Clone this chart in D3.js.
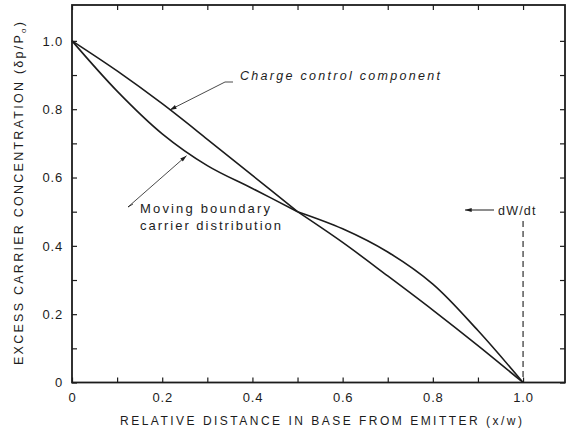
<!DOCTYPE html>
<html>
<head>
<meta charset="utf-8">
<script src="https://cdn.jsdelivr.net/npm/d3@7"></script>
<style>
  body { margin: 0; background: #fff; }
  svg text { font-family: "Liberation Sans", Arial, sans-serif; fill: #1c1c1c; }
</style>
</head>
<body>
<svg id="chart" width="568" height="437"></svg>
<script>
// x = relative distance in base (x/w), y = excess carrier concentration
const chargeX = [0, 0.1, 0.2, 0.3, 0.4, 0.5, 0.6, 0.7, 0.8, 0.9, 1.0];
const chargeY = [1.0, 0.912, 0.816, 0.712, 0.606, 0.5, 0.45, 0.382, 0.288, 0.152, 0];
const movingX = [0, 0.1, 0.2, 0.3, 0.4, 0.5, 0.6, 0.7, 0.8, 0.9, 1.0];
const movingY = [1.0, 0.853, 0.728, 0.635, 0.568, 0.5, 0.41, 0.312, 0.212, 0.108, 0];
const majorTicks = [0, 0.2, 0.4, 0.6, 0.8, 1.0];
const minorTicks = [0, 0.1, 0.2, 0.3, 0.4, 0.5, 0.6, 0.7, 0.8, 0.9, 1.0];

const svg = d3.select("#chart");
const ink = "#1c1c1c";

const x = d3.scaleLinear().domain([0, 1.093]).range([72, 565]);
const y = d3.scaleLinear().domain([0, 1.105]).range([382.5, 5]);

const fmt = d => d === 0 ? "0" : d.toFixed(1);

// arrowhead marker
svg.append("defs").append("marker")
    .attr("id", "arrow")
    .attr("viewBox", "0 0 10 6")
    .attr("refX", 10).attr("refY", 3)
    .attr("markerWidth", 8).attr("markerHeight", 4)
    .attr("markerUnits", "userSpaceOnUse")
    .attr("orient", "auto")
  .append("path")
    .attr("d", "M0,0L10,3L0,6Z")
    .attr("fill", ink);

// ticks on all four sides, pointing inward
function styleAxis(g) {
    g.select(".domain").remove();
    g.selectAll(".tick line").attr("stroke", ink).attr("stroke-width", 1.2);
    g.selectAll(".tick text")
        .attr("fill", ink)
        .style("font-size", "13px")
        .style("letter-spacing", "0.8px");
}

svg.append("g")
    .attr("transform", `translate(0,${y(0)})`)
    .call(d3.axisBottom(x).tickValues(minorTicks).tickSize(-5).tickFormat(""))
    .call(styleAxis);
svg.append("g")
    .attr("transform", `translate(0,${y(0)})`)
    .call(d3.axisBottom(x).tickValues(majorTicks).tickSize(0).tickPadding(10).tickFormat(fmt))
    .call(styleAxis);

svg.append("g")
    .attr("transform", `translate(${x(0)},0)`)
    .call(d3.axisLeft(y).tickValues(minorTicks).tickSize(-5).tickFormat(""))
    .call(styleAxis);
svg.append("g")
    .attr("transform", `translate(${x(0)},0)`)
    .call(d3.axisLeft(y).tickValues(majorTicks).tickSize(0).tickPadding(9).tickFormat(fmt))
    .call(styleAxis);

svg.append("g")
    .attr("transform", `translate(0,${y.range()[1]})`)
    .call(d3.axisTop(x).tickValues(minorTicks).tickSize(-5).tickFormat(""))
    .call(styleAxis);
svg.append("g")
    .attr("transform", `translate(${x.range()[1]},0)`)
    .call(d3.axisRight(y).tickValues(minorTicks).tickSize(-5).tickFormat(""))
    .call(styleAxis);

// frame
svg.append("rect")
    .attr("x", x.range()[0]).attr("y", y.range()[1])
    .attr("width", x.range()[1] - x.range()[0])
    .attr("height", y.range()[0] - y.range()[1])
    .attr("fill", "none").attr("stroke", ink).attr("stroke-width", 1.8);

// curves: both bend sharply where they cross at x = 0.5,
// so each half is drawn as its own smooth piece
const line = d3.line()
    .x(d => x(d[0])).y(d => y(d[1]))
    .curve(d3.curveCatmullRom.alpha(0.5));

function drawCurve(xs, ys) {
    const pts = d3.zip(xs, ys);
    [pts.filter(p => p[0] <= 0.5), pts.filter(p => p[0] >= 0.5)].forEach(part => {
        svg.append("path")
            .datum(part)
            .attr("d", line)
            .attr("fill", "none").attr("stroke", ink)
            .attr("stroke-width", 1.6).attr("stroke-linejoin", "round");
    });
}
drawCurve(chargeX, chargeY);
drawCurve(movingX, movingY);

// dW/dt boundary marker
svg.append("line")
    .attr("x1", x(1.0)).attr("x2", x(1.0))
    .attr("y1", 221).attr("y2", y(0))
    .attr("stroke", ink).attr("stroke-width", 1.1)
    .attr("stroke-dasharray", "6,4");
svg.append("line")
    .attr("x1", 494).attr("y1", 210).attr("x2", 465).attr("y2", 210)
    .attr("stroke", ink).attr("stroke-width", 1)
    .attr("marker-end", "url(#arrow)");
svg.append("text")
    .attr("x", 498).attr("y", 214.5)
    .style("font-size", "12.5px")
    .style("letter-spacing", "1.2px")
    .text("dW/dt");

// annotation: charge control component
svg.append("path")
    .attr("d", `M233,82L225,82L${x(0.217)},${y(0.798)}`)
    .attr("fill", "none").attr("stroke", ink).attr("stroke-width", 0.8)
    .attr("marker-end", "url(#arrow)");
svg.append("text")
    .attr("x", 240).attr("y", 79.5)
    .attr("textLength", 200).attr("lengthAdjust", "spacing")
    .style("font-size", "12.5px").style("font-style", "italic")
    .text("Charge control component");

// annotation: moving boundary carrier distribution
svg.append("path")
    .attr("d", `M133,204L128,207L${x(0.254)},${y(0.664)}`)
    .attr("fill", "none").attr("stroke", ink).attr("stroke-width", 0.8)
    .attr("marker-end", "url(#arrow)");
svg.append("text")
    .attr("x", 140).attr("y", 212.5)
    .attr("textLength", 130).attr("lengthAdjust", "spacing")
    .style("font-size", "13px")
    .text("Moving boundary");
svg.append("text")
    .attr("x", 140).attr("y", 229.5)
    .attr("textLength", 141).attr("lengthAdjust", "spacing")
    .style("font-size", "13px")
    .text("carrier distribution");

// axis titles
svg.append("text")
    .attr("x", 120).attr("y", 425)
    .attr("textLength", 402).attr("lengthAdjust", "spacing")
    .style("font-size", "12px")
    .text("RELATIVE DISTANCE IN BASE FROM EMITTER (x/w)");

const yTitle = svg.append("text")
    .attr("transform", "translate(23,365) rotate(-90)")
    .attr("x", 0).attr("y", 0)
    .attr("textLength", 343).attr("lengthAdjust", "spacing")
    .style("font-size", "12.5px");
yTitle.append("tspan").text("EXCESS CARRIER CONCENTRATION (δp/P");
yTitle.append("tspan").attr("dy", 3).style("font-size", "8px").text("o");
yTitle.append("tspan").attr("dy", -3).text(")");
</script>
</body>
</html>
